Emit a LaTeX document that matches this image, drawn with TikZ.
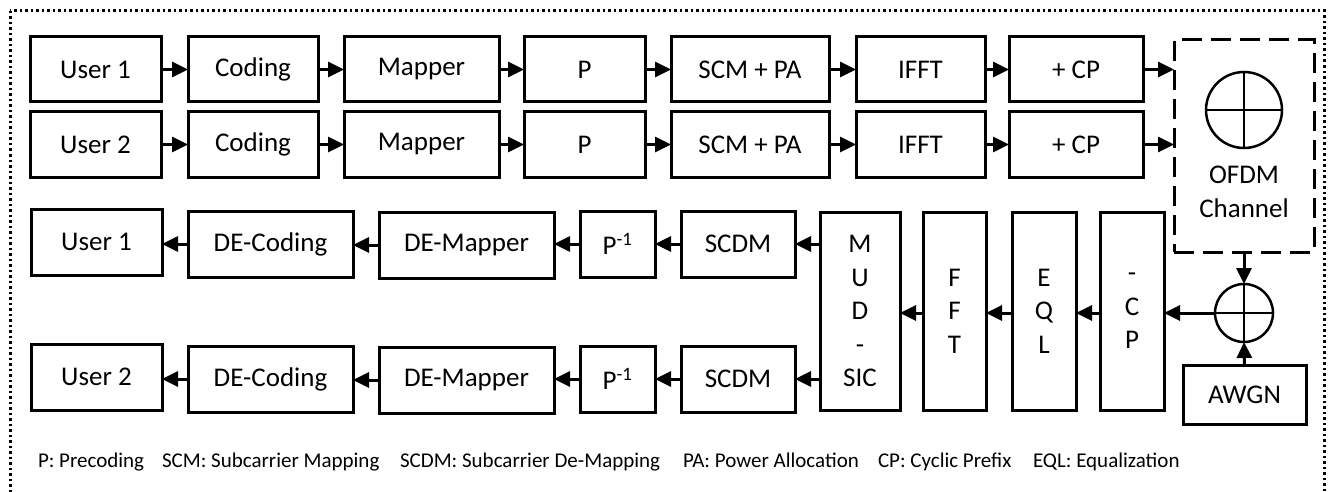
\documentclass[tikz,border=0pt]{standalone}
\usepackage{fontspec}
\setmainfont{Carlito}
\usetikzlibrary{arrows.meta}
\begin{document}
\begin{tikzpicture}[x=1pt,y=-1pt,
  every node/.style={font=\fontsize{27}{33.5}\selectfont, inner sep=0pt, outer sep=0pt},
  blk/.style={draw, line width=3pt, align=center},
  arr/.style={line width=3pt, -{Triangle[length=16pt,width=15pt]}},
  legend/.style={anchor=base west, font=\fontsize{21}{25}\selectfont},
  crossc/.style={draw, circle, line width=2.5pt, inner sep=0pt},
]
\useasboundingbox (0,0) rectangle (1330,492);
% frame
\draw[line width=3pt, dash pattern=on 2.5pt off 3pt] (10,11) rectangle (1324,540);

% transmitter row 1
\node[blk, minimum width=131, minimum height=65] (u1) at (95.5,69.5) {User 1};
\node[blk, minimum width=130, minimum height=65] (c1) at (253,69.5) {Coding};
\node[blk, minimum width=155, minimum height=65] (m1) at (421.5,69.5) {Mapper};
\node[blk, minimum width=121, minimum height=65] (p1) at (584.5,69.5) {P};
\node[blk, minimum width=158, minimum height=65] (s1) at (750,69.5) {SCM + PA};
\node[blk, minimum width=129, minimum height=65] (i1) at (920.5,69.5) {IFFT};
\node[blk, minimum width=134, minimum height=65] (a1) at (1076,69.5) {+ CP};
% transmitter row 2
\node[blk, minimum width=131, minimum height=65] (u2) at (95.5,144.5) {User 2};
\node[blk, minimum width=130, minimum height=65] (c2) at (253,144.5) {Coding};
\node[blk, minimum width=155, minimum height=65] (m2) at (421.5,144.5) {Mapper};
\node[blk, minimum width=121, minimum height=65] (p2) at (584.5,144.5) {P};
\node[blk, minimum width=158, minimum height=65] (s2) at (750,144.5) {SCM + PA};
\node[blk, minimum width=129, minimum height=65] (i2) at (920.5,144.5) {IFFT};
\node[blk, minimum width=134, minimum height=65] (a2) at (1076,144.5) {+ CP};

% channel
\node[draw, line width=3pt, dash pattern=on 20pt off 9pt, minimum width=140, minimum height=212] (ch) at (1244,146) {};
\node[crossc, minimum size=76] (chc) at (1244,110) {};
\draw[line width=2.5pt] (chc.north) -- (chc.south) (chc.west) -- (chc.east);
\node[align=center] (cht) at (1244,192) {OFDM\\Channel};

% receiver vertical blocks
\node[blk, minimum width=80, minimum height=198] (mud) at (860,311) {M\\U\\D\\-\\SIC};
\node[blk, minimum width=63, minimum height=198] (fft) at (954.5,311) {F\\F\\T};
\node[blk, minimum width=64, minimum height=198] (eql) at (1044,311) {E\\Q\\L};
\node[blk, minimum width=64, minimum height=198] (rcp) at (1132,311) {-\\C\\P};
\node[crossc, minimum size=58] (sum) at (1244,313) {};
\draw[line width=2.5pt] (sum.north) -- (sum.south) (sum.west) -- (sum.east);
\node[blk, minimum width=123, minimum height=59] (awgn) at (1244.5,394.5) {AWGN};

% receiver rows
\node[blk, minimum width=131, minimum height=66] (r1) at (96.5,242) {User 1};
\node[blk, minimum width=165, minimum height=66] (d1) at (270.5,244) {DE-Coding};
\node[blk, minimum width=175, minimum height=66] (e1) at (466.5,245) {DE-Mapper};
\node[blk, minimum width=75, minimum height=66] (q1) at (617.5,244) {P\textsuperscript{-1}};
\node[blk, minimum width=114, minimum height=66] (t1) at (738,244) {SCDM};
\node[blk, minimum width=131, minimum height=66] (r2) at (96.5,377) {User 2};
\node[blk, minimum width=165, minimum height=66] (d2) at (270.5,379) {DE-Coding};
\node[blk, minimum width=175, minimum height=66] (e2) at (466.5,380) {DE-Mapper};
\node[blk, minimum width=75, minimum height=66] (q2) at (617.5,379) {P\textsuperscript{-1}};
\node[blk, minimum width=114, minimum height=66] (t2) at (738,379) {SCDM};

% arrows transmitter
\foreach \a/\b in {u1/c1,c1/m1,m1/p1,p1/s1,s1/i1,i1/a1,u2/c2,c2/m2,m2/p2,p2/s2,s2/i2,i2/a2}
  \draw[arr] (\a.east) -- (\a.east -| \b.west);
\draw[arr] (a1.east) -- (a1.east -| ch.west);
\draw[arr] (a2.east) -- (a2.east -| ch.west);

% channel to receiver
\draw[arr] (ch.south) -- (sum.north);
\draw[arr] (awgn.north) -- (sum.south);
\draw[arr] (sum.west) -- (sum.west -| rcp.east);
\draw[arr] (rcp.west |- sum.west) -- (eql.east |- sum.west);
\draw[arr] (eql.west |- sum.west) -- (fft.east |- sum.west);
\draw[arr] (fft.west |- sum.west) -- (mud.east |- sum.west);
\draw[arr] (mud.west |- t1.east) -- (t1.east);
\draw[arr] (mud.west |- t2.east) -- (t2.east);
\foreach \a/\b in {t1/q1,q1/e1,e1/d1,d1/r1,t2/q2,q2/e2,e2/d2,d2/r2}
  \draw[arr] (\a.west) -- (\a.west -| \b.east);

% legend
\node[legend] (l1) at (38,467) {P: Precoding};
\node[legend] (l2) at (162,467) {SCM: Subcarrier Mapping};
\node[legend] (l3) at (400,467) {SCDM: Subcarrier De-Mapping};
\node[legend] (l4) at (683,467) {PA: Power Allocation};
\node[legend] (l5) at (878,467) {CP: Cyclic Prefix};
\node[legend] (l6) at (1033,467) {EQL: Equalization};
\end{tikzpicture}
\end{document}
